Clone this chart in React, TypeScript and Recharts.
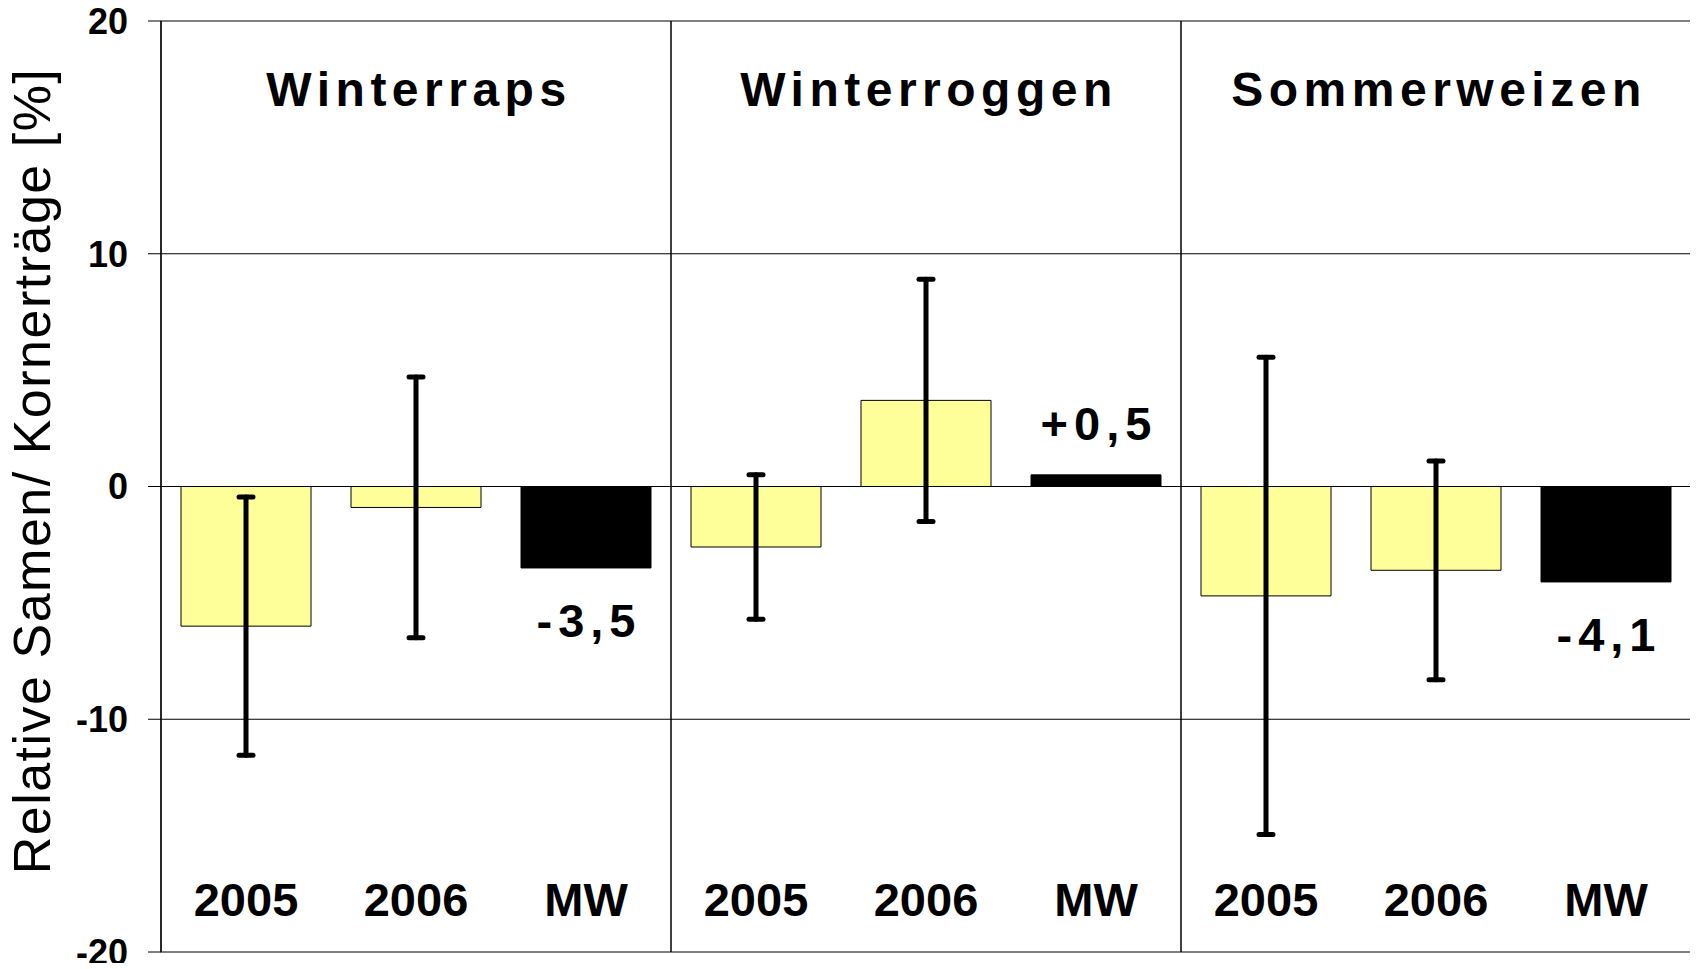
import React from 'react';
import { BarChart, Bar, XAxis, YAxis, CartesianGrid, ErrorBar, Cell, LabelList, ReferenceLine, ReferenceArea } from 'recharts';

const crops = ['Winterraps', 'Winterroggen', 'Sommerweizen'];
const columns = ['2005', '2006', 'MW'];
const yield2005 = [-6.0, -2.6, -4.7];
const yield2006 = [-0.9, 3.7, -3.6];
const yieldMean = [-3.5, 0.5, -4.1];
const err2005 = [5.55, 3.1, 10.25];
const err2006 = [5.6, 5.2, 4.7];
const yTicks = [-20, -10, 0, 10, 20];

const FONT = '"Liberation Sans", Arial, sans-serif';

const fmt = (v: number) => (v > 0 ? '+' : '') + v.toFixed(1).replace('.', ',');
const key = (crop: string, col: string) => `${crop}-${col}`;

const data = crops.flatMap((crop, i) => [
  { id: key(crop, columns[0]), label: columns[0], value: yield2005[i], err: err2005[i], mean: false, text: '' },
  { id: key(crop, columns[1]), label: columns[1], value: yield2006[i], err: err2006[i], mean: false, text: '' },
  { id: key(crop, columns[2]), label: columns[2], value: yieldMean[i], err: 0, mean: true, text: fmt(yieldMean[i]) },
]);

const YearTick = (props: any) => {
  const { x, y, payload } = props;
  const row = data.find((d) => d.id === payload.value);
  return (
    <text x={x} y={y - 36} textAnchor="middle" fontFamily={FONT} fontWeight="bold" fontSize={47} fill="#000">
      {row?.label}
    </text>
  );
};

const groupTitle = (name: string) => (props: any) => {
  const { viewBox } = props;
  return (
    <text
      x={viewBox.x + viewBox.width / 2 + 3}
      y={viewBox.y + 85}
      textAnchor="middle"
      fontFamily={FONT}
      fontWeight="bold"
      fontSize={48}
      letterSpacing={5.5}
      fill="#000"
    >
      {name}
    </text>
  );
};

const MeanLabel = (props: any) => {
  const { x, y, width, height, value } = props;
  if (!value) return null;
  const top = Math.min(y, y + height);
  const bottom = Math.max(y, y + height);
  const cy = value.startsWith('-') ? bottom + 52 : top - 52;
  return (
    <text x={x + width / 2 + 3} y={cy} dy="0.36em" textAnchor="middle" fontFamily={FONT} fontWeight="bold" fontSize={47} letterSpacing={6} fill="#000">
      {value}
    </text>
  );
};

const AxisTitle = (props: any) => {
  const { viewBox } = props;
  const x = viewBox.x + 42;
  const y = 463;
  return (
    <text x={x} y={y} transform={`rotate(-90, ${x}, ${y})`} textAnchor="middle" fontFamily={FONT} fontSize={52} letterSpacing={1.5} fill="#000">
      Relative Samen/ Kornerträge [%]
    </text>
  );
};

export default function App() {
  return (
    <div style={{ width: 1690, height: 955, background: '#fff' }}>
      <BarChart width={1690} height={955} data={data} margin={{ top: 13, right: 7, bottom: 10, left: 0 }} barSize={130}>
        <CartesianGrid vertical={false} stroke="#000" strokeWidth={1} />
        <XAxis dataKey="id" height={1} tickSize={0} tickMargin={0} axisLine={false} tickLine={false} tick={<YearTick />} interval={0} />
        <YAxis
          width={153}
          domain={[-20, 20]}
          ticks={yTicks}
          interval={0}
          tickSize={13}
          tickMargin={20}
          axisLine={{ stroke: '#000', strokeWidth: 1.5 }}
          tickLine={{ stroke: '#000' }}
          tick={{ fontFamily: FONT, fontWeight: 'bold', fontSize: 36, fill: '#000' }}
          label={{ content: <AxisTitle /> }}
        />
        <ReferenceArea
          x1={key(crops[0], columns[0])}
          x2={key(crops[2], columns[2])}
          y1={-20}
          y2={20}
          fill="none"
          stroke="#808080"
          strokeWidth={1.5}
          ifOverflow="visible"
        />
        {crops.map((crop) => (
          <ReferenceArea
            key={crop}
            x1={key(crop, columns[0])}
            x2={key(crop, columns[2])}
            y1={-20}
            y2={20}
            fill="none"
            stroke="none"
            ifOverflow="visible"
            label={{ content: groupTitle(crop) }}
          />
        ))}
        {crops.slice(1).map((crop) => (
          <ReferenceLine key={crop} x={key(crop, columns[0])} position="start" stroke="#000" strokeWidth={1.5} />
        ))}
        <Bar dataKey="value" isAnimationActive={false}>
          {data.map((d) => (
            <Cell key={d.id} fill={d.mean ? '#000' : '#FFFF99'} stroke="#000" strokeWidth={1} />
          ))}
          <ErrorBar dataKey="err" width={7} stroke="#000" strokeWidth={5} strokeLinecap="round" />
          <LabelList dataKey="text" content={<MeanLabel />} />
        </Bar>
      </BarChart>
    </div>
  );
}
